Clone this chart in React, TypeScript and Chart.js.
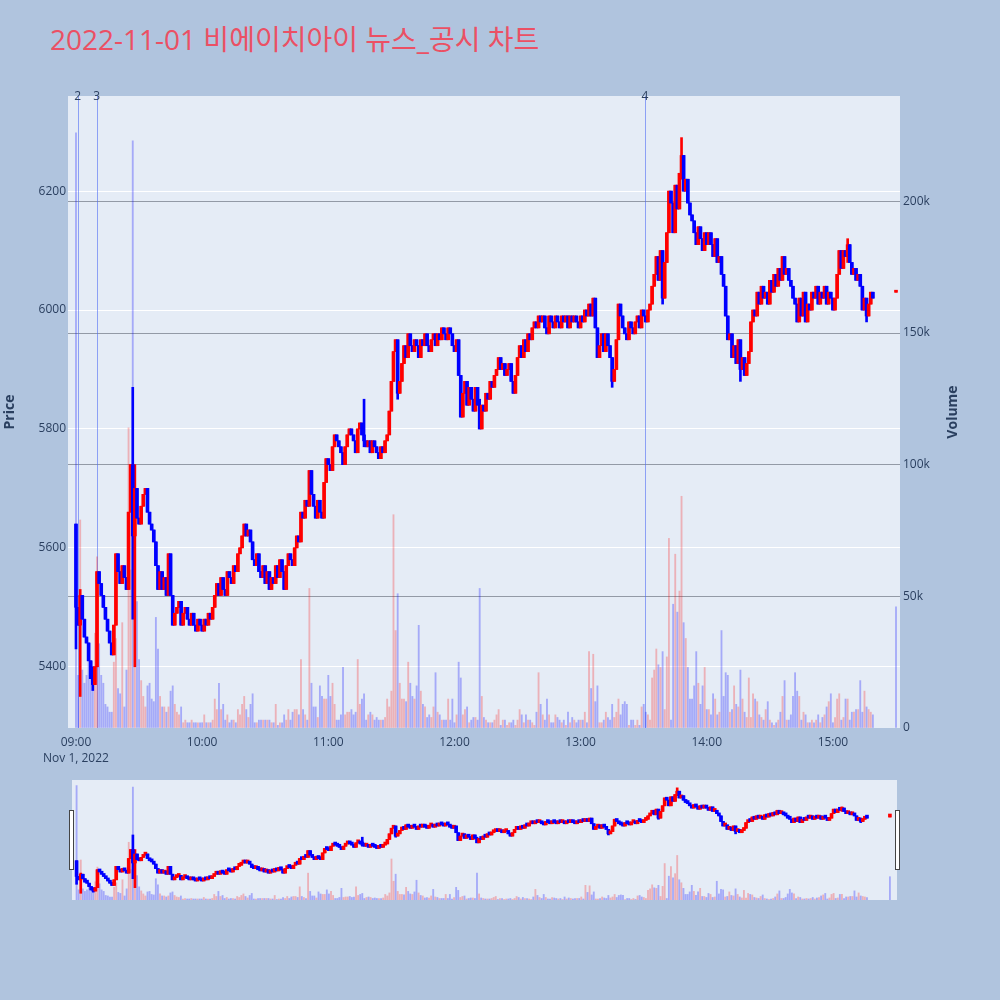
import { useEffect, useRef } from 'react'
import { Chart, registerables } from 'chart.js'

Chart.register(...registerables)

// minutes after midnight; candle i sits at 09:00 + i
const sessionStart = 540
const firstOpen = 5640

// 1-minute closes, 09:00 .. 15:19
const closes = [
  5500, 5470, 5520, 5480, 5450, 5440, 5410, 5380, 5370, 5400,
  5560, 5540, 5520, 5500, 5480, 5460, 5440, 5420, 5470, 5590,
  5560, 5540, 5570, 5550, 5530, 5660, 5740, 5620, 5700, 5650,
  5640, 5670, 5690, 5700, 5660, 5640, 5630, 5610, 5570, 5530,
  5560, 5530, 5550, 5520, 5590, 5520, 5470, 5490, 5500, 5510,
  5470, 5490, 5500, 5480, 5470, 5490, 5470, 5460, 5480, 5470,
  5460, 5480, 5470, 5490, 5480, 5500, 5520, 5540, 5520, 5550,
  5530, 5520, 5560, 5550, 5540, 5570, 5560, 5590, 5600, 5620,
  5640, 5620, 5630, 5610, 5580, 5570, 5590, 5560, 5550, 5570,
  5540, 5560, 5530, 5550, 5540, 5570, 5550, 5580, 5560, 5530,
  5570, 5590, 5580, 5570, 5600, 5620, 5610, 5660, 5650, 5680,
  5670, 5730, 5690, 5670, 5650, 5680, 5660, 5650, 5710, 5750,
  5740, 5730, 5770, 5790, 5780, 5770, 5760, 5740, 5770, 5790,
  5800, 5790, 5780, 5760, 5800, 5810, 5790, 5780, 5770, 5780,
  5760, 5780, 5770, 5760, 5750, 5770, 5760, 5780, 5790, 5830,
  5880, 5930, 5950, 5860, 5880, 5910, 5940, 5920, 5960, 5940,
  5930, 5950, 5940, 5920, 5950, 5940, 5960, 5940, 5930, 5950,
  5960, 5940, 5960, 5950, 5970, 5960, 5950, 5970, 5960, 5940,
  5930, 5950, 5890, 5820, 5860, 5880, 5840, 5870, 5850, 5830,
  5870, 5840, 5800, 5840, 5830, 5860, 5850, 5880, 5870, 5890,
  5900, 5920, 5900, 5910, 5890, 5900, 5910, 5880, 5860, 5890,
  5920, 5940, 5920, 5950, 5930, 5960, 5950, 5970, 5980, 5970,
  5990, 5980, 5990, 5970, 5960, 5990, 5980, 5970, 5990, 5980,
  5970, 5990, 5980, 5990, 5970, 5990, 5980, 5990, 5980, 5970,
  5990, 5980, 6000, 5990, 6010, 5990, 6020, 5970, 5920, 5940,
  5960, 5930, 5960, 5940, 5920, 5880, 5900, 5950, 6010, 5990,
  5970, 5960, 5950, 5980, 5970, 5960, 5980, 5990, 5970, 6000,
  5990, 5980, 6000, 6010, 6040, 6060, 6090, 6050, 6100, 6020,
  6080, 6130, 6200, 6180, 6130, 6210, 6170, 6230, 6260, 6200,
  6220, 6180, 6160, 6150, 6130, 6110, 6140, 6120, 6100, 6130,
  6110, 6130, 6110, 6090, 6120, 6080, 6090, 6060, 6040, 5990,
  5950, 5960, 5920, 5940, 5910, 5950, 5900, 5920, 5890, 5910,
  5930, 5980, 6000, 5990, 6030, 6010, 6040, 6020, 6030, 6010,
  6050, 6030, 6060, 6040, 6070, 6050, 6090, 6060, 6070, 6050,
  6040, 6020, 6010, 5980, 6020, 5990, 6030, 5980, 6010, 6000,
  6030, 6020, 6040, 6010, 6030, 6020, 6040, 6010, 6030, 6020,
  6000, 6020, 6060, 6100, 6070, 6100, 6090, 6110, 6080, 6060,
  6070, 6050, 6060, 6040, 6000, 6020, 5990, 6010, 6030, 6020,
]

// 1-minute volume, thousands of shares
const volumesK = [
  226, 20, 79, 22, 17, 20, 26, 19, 15, 36, 65, 32, 20, 17, 9, 8, 6, 6, 25, 34,
  15, 13, 40, 8, 22, 114, 60, 223, 95, 48, 26, 18, 12, 8, 16, 17, 11, 10, 42, 30,
  12, 8, 8, 6, 8, 14, 16, 9, 6, 5, 8, 2, 3, 2, 2, 3, 2, 2, 2, 2,
  2, 5, 2, 2, 2, 3, 11, 7, 17, 7, 9, 3, 5, 2, 3, 3, 2, 7, 5, 9,
  12, 7, 4, 9, 13, 2, 2, 3, 3, 3, 3, 3, 3, 2, 2, 9, 1, 2, 2, 5,
  3, 7, 3, 6, 7, 7, 5, 26, 7, 5, 3, 53, 17, 8, 8, 4, 16, 12, 11, 11,
  20, 12, 17, 9, 3, 3, 5, 23, 5, 6, 6, 7, 5, 6, 26, 9, 11, 13, 3, 5,
  6, 5, 3, 4, 3, 3, 3, 4, 11, 8, 14, 81, 37, 51, 17, 11, 11, 10, 25, 17,
  12, 11, 16, 39, 14, 9, 8, 4, 5, 4, 8, 21, 6, 5, 3, 3, 3, 11, 3, 11,
  2, 5, 25, 19, 5, 7, 8, 2, 3, 4, 4, 3, 53, 12, 4, 3, 2, 2, 2, 3,
  5, 7, 1, 3, 3, 1, 2, 2, 3, 1, 3, 7, 5, 2, 5, 3, 3, 2, 1, 6,
  21, 9, 5, 3, 11, 5, 2, 2, 5, 4, 3, 2, 3, 1, 6, 2, 4, 3, 2, 3,
  3, 3, 6, 2, 29, 15, 28, 10, 16, 2, 2, 3, 6, 4, 3, 9, 4, 6, 11, 5,
  9, 10, 9, 1, 3, 3, 1, 3, 1, 8, 9, 6, 5, 3, 19, 22, 30, 24, 23, 29,
  7, 27, 72, 3, 47, 66, 44, 52, 88, 40, 34, 23, 11, 11, 16, 29, 17, 9, 16, 23,
  7, 7, 5, 13, 11, 5, 6, 37, 12, 21, 20, 6, 7, 16, 9, 8, 22, 11, 6, 4,
  19, 4, 13, 11, 10, 5, 4, 3, 7, 10, 3, 2, 1, 2, 3, 6, 12, 18, 3, 3,
  5, 12, 21, 14, 12, 3, 6, 5, 2, 2, 3, 2, 3, 5, 2, 4, 5, 8, 10, 13,
  2, 4, 11, 13, 3, 4, 11, 11, 3, 6, 6, 7, 7, 18, 6, 14, 8, 7, 6, 5,
]

// minute index, high, low for candles with visible shadows
const wicks: [number, number, number][] = [
  [0, 5640, 5430],
  [2, 5530, 5350],
  [8, 5400, 5360],
  [27, 5870, 5480],
  [28, 5740, 5400],
  [137, 5850, 5770],
  [153, 5950, 5850],
  [192, 5850, 5800],
  [255, 5920, 5870],
  [279, 6100, 6010],
  [288, 6290, 6220],
  [316, 5950, 5880],
  [367, 6120, 6080],
  [376, 6020, 5980],
]

// 15:30 closing auction
const closingMinute = 930
const closingPrice = 6030
const closingVolumeK = 46
const closingVolumeUp = false

const priceTicks = [5400, 5600, 5800, 6000, 6200]
const volumeTicks = [0, 50000, 100000, 150000, 200000]
const hourTicks = [540, 600, 660, 720, 780, 840, 900]
const newsLabels = ['2', '3', '4']
const newsMinutes = [540.8, 549.8, 810.6]

const UP = '#ff0000'
const DOWN = '#0000ff'
const UP_VOL = 'rgba(255, 0, 0, 0.25)'
const DOWN_VOL = 'rgba(0, 0, 255, 0.28)'
const PLOT_BG = '#E5ECF6'
const TEXT = '#2a3f5f'
const FONT = '"Open Sans", verdana, arial, sans-serif'

type Candle = { x: number; o: number; h: number; l: number; c: number; v: number; volUp: boolean }

const candles: Candle[] = closes.map((c, i) => {
  const o = i === 0 ? firstOpen : closes[i - 1]
  const w = wicks.find((k) => k[0] === i)
  return {
    x: sessionStart + i,
    o,
    c,
    h: Math.max(o, c, w ? w[1] : -Infinity),
    l: Math.min(o, c, w ? w[2] : Infinity),
    v: volumesK[i] * 1000,
    volUp: c >= o,
  }
})
candles.push({
  x: closingMinute,
  o: closingPrice,
  c: closingPrice,
  h: closingPrice,
  l: closingPrice,
  v: closingVolumeK * 1000,
  volUp: closingVolumeUp,
})

const isUp = (d: Candle) => d.c >= d.o

function makeDatasets(bodyWidth: number, wickWidth: number, volWidth: number, minBody: number) {
  return [
    {
      label: 'body',
      data: candles.map((d) => ({ x: d.x, y: [Math.min(d.o, d.c), Math.max(d.o, d.c)] })),
      backgroundColor: candles.map((d) => (isUp(d) ? UP : DOWN)),
      barThickness: bodyWidth,
      minBarLength: minBody,
      grouped: false,
      yAxisID: 'y',
      order: 1,
    },
    {
      label: 'wick',
      data: candles.map((d) => ({ x: d.x, y: [d.l, d.h] })),
      backgroundColor: candles.map((d) => (isUp(d) ? UP : DOWN)),
      barThickness: wickWidth,
      grouped: false,
      yAxisID: 'y',
      order: 2,
    },
    {
      label: 'Volume',
      data: candles.map((d) => ({ x: d.x, y: d.v })),
      backgroundColor: candles.map((d) => (d.volUp ? UP_VOL : DOWN_VOL)),
      barThickness: volWidth,
      grouped: false,
      yAxisID: 'y1',
      order: 3,
    },
  ]
}

const pad = (n: number) => String(n).padStart(2, '0')

const plotBackground = {
  id: 'plotBackground',
  beforeDraw(chart: any) {
    const { ctx, chartArea } = chart
    ctx.save()
    ctx.fillStyle = PLOT_BG
    ctx.fillRect(chartArea.left, chartArea.top, chartArea.right - chartArea.left, chartArea.bottom - chartArea.top)
    ctx.restore()
  },
}

const newsLines = {
  id: 'newsLines',
  beforeDatasetsDraw(chart: any) {
    const { ctx, chartArea, scales } = chart
    ctx.save()
    ctx.strokeStyle = 'rgba(80, 110, 245, 0.6)'
    ctx.lineWidth = 1
    newsMinutes.forEach((m) => {
      const px = Math.round(scales.x.getPixelForValue(m)) + 0.5
      ctx.beginPath()
      ctx.moveTo(px, chartArea.top)
      ctx.lineTo(px, chartArea.bottom)
      ctx.stroke()
    })
    ctx.restore()
  },
  afterDraw(chart: any) {
    const { ctx, chartArea, scales } = chart
    ctx.save()
    ctx.fillStyle = TEXT
    ctx.font = `12px ${FONT}`
    ctx.textAlign = 'center'
    ctx.textBaseline = 'middle'
    newsMinutes.forEach((m, i) => {
      ctx.fillText(newsLabels[i], scales.x.getPixelForValue(m), chartArea.top + 1)
    })
    // y axis titles, read bottom to top
    ctx.font = `bold 14px ${FONT}`
    const mid = (chartArea.top + chartArea.bottom) / 2
    ctx.translate(chartArea.left - 58, mid)
    ctx.rotate(-Math.PI / 2)
    ctx.fillText('Price', 0, 0)
    ctx.rotate(Math.PI / 2)
    ctx.translate(chartArea.right - chartArea.left + 58 + 53, 0)
    ctx.rotate(-Math.PI / 2)
    ctx.fillText('Volume', 0, 0)
    ctx.restore()
  },
}

function MainChart() {
  const canvasRef = useRef<HTMLCanvasElement>(null)

  useEffect(() => {
    if (!canvasRef.current) return
    const tickFont = { family: FONT, size: 12 }
    const chart = new Chart(canvasRef.current, {
      type: 'bar',
      data: { datasets: makeDatasets(3, 2, 1.2, 2) as any },
      options: {
        animation: false,
        responsive: false,
        events: [],
        layout: { padding: { top: 96, left: 0, right: 0, bottom: 0 } },
        plugins: { legend: { display: false }, tooltip: { enabled: false } },
        scales: {
          x: {
            type: 'linear',
            min: 536.2,
            max: 931.9,
            offset: false,
            grid: { display: false, drawTicks: false, offset: false },
            border: { display: false },
            afterBuildTicks: (s: any) => {
              s.ticks = hourTicks.map((v) => ({ value: v }))
            },
            afterFit: (s: any) => {
              s.height = 52
            },
            ticks: {
              autoSkip: false,
              maxRotation: 0,
              padding: 6,
              color: TEXT,
              font: { ...tickFont, lineHeight: 1.35 },
              callback: (v: any) => {
                const label = `${pad(Math.floor(v / 60))}:${pad(v % 60)}`
                return v === sessionStart ? [label, 'Nov 1, 2022'] : label
              },
            },
          },
          y: {
            position: 'left',
            min: 5297,
            max: 6360,
            grid: { color: '#ffffff', lineWidth: 1, drawTicks: false },
            border: { display: false },
            afterBuildTicks: (s: any) => {
              s.ticks = priceTicks.map((v) => ({ value: v }))
            },
            afterFit: (s: any) => {
              s.width = 68
            },
            ticks: { padding: 2, color: TEXT, font: tickFont, callback: (v: any) => String(v) },
          },
          y1: {
            position: 'right',
            min: 0,
            max: 240000,
            grid: {
              color: (c: any) => (c.tick && c.tick.value === 0 ? 'rgba(0,0,0,0)' : '#939aa6'),
              lineWidth: 1,
              drawTicks: false,
            },
            border: { display: false },
            afterBuildTicks: (s: any) => {
              s.ticks = volumeTicks.map((v) => ({ value: v }))
            },
            afterFit: (s: any) => {
              s.width = 100
            },
            ticks: {
              padding: 3,
              color: TEXT,
              font: tickFont,
              callback: (v: any) => (v === 0 ? '0' : `${v / 1000}k`),
            },
          },
        },
      } as any,
      plugins: [plotBackground, newsLines],
    })
    return () => chart.destroy()
  }, [])

  return (
    <canvas
      ref={canvasRef}
      width={1000}
      height={780}
      style={{ position: 'absolute', left: 0, top: 0, width: 1000, height: 780 }}
    />
  )
}

function RangeSlider() {
  const canvasRef = useRef<HTMLCanvasElement>(null)

  useEffect(() => {
    if (!canvasRef.current) return
    const chart = new Chart(canvasRef.current, {
      type: 'bar',
      data: { datasets: makeDatasets(3, 2, 1.2, 3) as any },
      options: {
        animation: false,
        responsive: false,
        events: [],
        layout: { padding: 0 },
        plugins: { legend: { display: false }, tooltip: { enabled: false } },
        scales: {
          x: { type: 'linear', min: 537.8, max: 933.4, offset: false, display: false },
          y: { min: 5290, max: 6360, display: false },
          y1: { min: 0, max: 237000, display: false },
        },
      } as any,
      plugins: [plotBackground],
    })
    return () => chart.destroy()
  }, [])

  const handle = {
    position: 'absolute' as const,
    top: 810,
    width: 5,
    height: 60,
    boxSizing: 'border-box' as const,
    background: '#ffffff',
    border: '1px solid #444444',
  }

  return (
    <>
      <canvas
        ref={canvasRef}
        width={825}
        height={120}
        style={{ position: 'absolute', left: 72, top: 780, width: 825, height: 120 }}
      />
      <div style={{ ...handle, left: 69 }} />
      <div style={{ ...handle, left: 895 }} />
    </>
  )
}

export default function App() {
  return (
    <div
      style={{
        position: 'absolute',
        left: 0,
        top: 0,
        width: 1000,
        height: 1000,
        overflow: 'hidden',
        background: '#B0C4DE',
      }}
    >
      <div
        style={{
          position: 'absolute',
          left: 50,
          top: 22,
          fontFamily: '"Open Sans", "Noto Sans CJK KR", sans-serif',
          fontSize: 28,
          lineHeight: '34px',
          color: '#EB5064',
          whiteSpace: 'nowrap',
        }}
      >
        2022-11-01 비에이치아이 뉴스_공시 차트
      </div>
      <MainChart />
      <RangeSlider />
    </div>
  )
}
